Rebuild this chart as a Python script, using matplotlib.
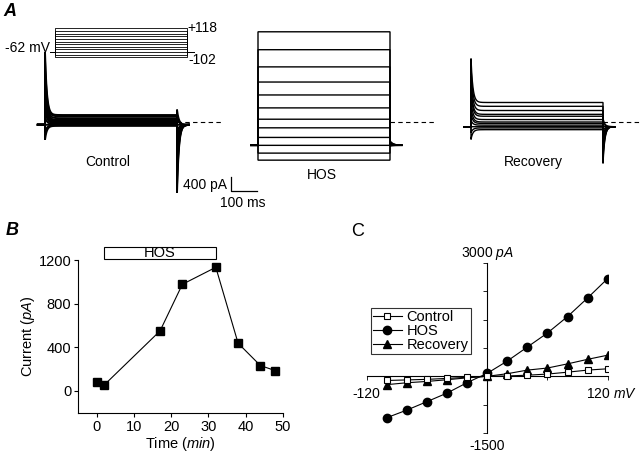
import numpy as np
import matplotlib
matplotlib.use('Agg')
import matplotlib.pyplot as plt
from matplotlib.patches import Rectangle

plt.rcParams['font.family'] = 'Liberation Sans'
plt.rcParams['mathtext.fontset'] = 'custom'
plt.rcParams['mathtext.rm'] = 'Liberation Sans'
plt.rcParams['mathtext.it'] = 'Liberation Sans:italic'
plt.rcParams['font.size'] = 10

# --- data ---
# A: voltage protocol (mV)
v_hold = -62
v_steps = [-102, -82, -62, -42, -22, -2, 18, 38, 58, 78, 98, 118]
hold_idx = 2
# capacitive transient size (pA per mV of step) at pulse on / off
cap_on = {'Control': 10.0, 'HOS': 0.0, 'Recovery': 7.0}
cap_off = {'Control': 10.9, 'HOS': 0.0, 'Recovery': 6.0}

# B: time course
time_min = [0, 2, 17, 23, 32, 38, 44, 48]
current_pa = [85, 55, 550, 977, 1133, 437, 232, 186]
hos_window = (2, 32)

# C: I-V relation
iv_mv = [-100, -80, -60, -40, -20, 0, 20, 40, 60, 80, 100, 120]
iv_control = [-110, -95, -80, -55, -25, 0, 10, 30, 60, 110, 165, 200]
iv_hos = [-1095, -893, -670, -443, -167, 80, 405, 776, 1147, 1582, 2075, 2589]
iv_recovery = [-220, -170, -135, -90, -40, 0, 70, 165, 220, 330, 450, 560]

W, H = 640, 454
fig = plt.figure(figsize=(6.4, 4.54), dpi=100)


def box(x0, y0, x1, y1):
    # pixel box -> figure fraction rect
    return [x0 / W, 1 - y1 / H, (x1 - x0) / W, (y1 - y0) / H]


def ftext(x, y, s, **kw):
    fig.text(x / W, 1 - y / H, s, **kw)


# ---------------- panel A ----------------
MS_PX = 500 / 132.0   # ms per pixel
PA_PX = 28.7          # pA per pixel
Y0 = 122              # zero current row

axA = fig.add_axes(box(0, 20, 640, 210))
axA.set_xlim(0, W * MS_PX)
axA.set_ylim((Y0 - 210) * PA_PX, (Y0 - 20) * PA_PX)
axA.axis('off')

tau_c, tau_t = 7.0, 12.0
t_pre = np.array([-27.0, 0.0])
t_step = np.arange(0, 500.5, 0.5)
t_post = np.arange(500, 545.5, 0.5)


def draw_traces(name, levels, start_px, lw):
    t0 = start_px * MS_PX
    hold = levels[hold_idx]
    for v, lev in zip(v_steps, levels):
        dv = v - v_hold
        i_pre = np.full(2, hold)
        i_step = lev + cap_on[name] * dv * np.exp(-t_step / tau_c)
        i_post = (hold - cap_off[name] * dv * np.exp(-(t_post - 500) / tau_c)
                  + 0.04 * (lev - hold) * np.exp(-(t_post - 500) / tau_t))
        t = np.concatenate([t_pre, t_step, t_post])
        i = np.concatenate([i_pre, i_step, i_post])
        axA.plot(t0 + t, i, color='k', lw=lw, solid_joinstyle='miter')
    # zero-current reference
    axA.plot([t0 + 500, t0 + 670], [0, 0], color='k', lw=0.8,
             dashes=(4, 3))


draw_traces('Control', iv_control, 45, 1.4)
draw_traces('HOS', iv_hos, 258, 1.0)
draw_traces('Recovery', iv_recovery, 471, 1.0)

# scale bar 400 pA / 100 ms
sb_x = 231 * MS_PX
sb_y = (Y0 - 191) * PA_PX
axA.plot([sb_x, sb_x, sb_x + 100], [sb_y + 400, sb_y, sb_y], color='k', lw=0.9)

ftext(108, 162, 'Control', ha='center', va='center')
ftext(322, 175, 'HOS', ha='center', va='center')
ftext(533, 162, 'Recovery', ha='center', va='center')
ftext(227, 185, '400 pA', ha='right', va='center')
ftext(243, 203, '100 ms', ha='center', va='center')

# voltage protocol
axP = fig.add_axes(box(40, 20, 200, 62))
MV_PX = 20 / 2.64
axP.set_xlim((40 - 55) * MS_PX, (200 - 55) * MS_PX)
axP.set_ylim(v_hold - (62 - 52.1) * MV_PX, v_hold + (52.1 - 20) * MV_PX)
axP.axis('off')
for v in v_steps:
    axP.plot([-19, 0, 0, 500, 500, 527], [v_hold, v_hold, v, v, v_hold, v_hold],
             color='k', lw=0.6)
ftext(50, 48, '-62 mV', ha='right', va='center')
ftext(187, 27.5, '+118', ha='left', va='center')
ftext(188, 60, '-102', ha='left', va='center')

# ---------------- panel B ----------------
axB = fig.add_axes(box(78.3, 260, 282.7, 412.7))
axB.plot(time_min, current_pa, color='k', lw=0.8, marker='s', ms=5.5,
         mfc='k', mec='k')
axB.set_xlim(-5, 50)
axB.set_ylim(-200, 1200)
axB.set_xticks([0, 10, 20, 30, 40, 50])
axB.set_yticks([0, 400, 800, 1200])
for s in ('top', 'right'):
    axB.spines[s].set_visible(False)
for s in ('left', 'bottom'):
    axB.spines[s].set_linewidth(0.8)
axB.tick_params(direction='out', length=3, width=0.8, pad=2, labelsize=10.5)
axB.set_xlabel('Time ($min$)', labelpad=1, fontsize=10.5)
axB.set_ylabel('Current ($pA$)', labelpad=1, fontsize=10.5)
axB.add_patch(Rectangle((hos_window[0], 1210), hos_window[1] - hos_window[0], 110,
                        facecolor='white', edgecolor='k', lw=0.8, clip_on=False))
axB.text(sum(hos_window) / 2, 1265, 'HOS', ha='center', va='center', fontsize=10.5)

# ---------------- panel C ----------------
axC = fig.add_axes(box(366.7, 263, 607.7, 433))
axC.set_xlim(-120, 120)
axC.set_ylim(-1500, 3000)
axC.plot(iv_mv, iv_control, color='k', lw=0.8, marker='s', ms=4.5,
         mfc='white', mec='k', mew=0.8, label='Control', zorder=4)
axC.plot(iv_mv, iv_hos, color='k', lw=0.8, marker='o', ms=6,
         mfc='k', mec='k', label='HOS', zorder=3)
axC.plot(iv_mv, iv_recovery, color='k', lw=0.8, marker='^', ms=5.5,
         mfc='k', mec='k', label='Recovery', zorder=3)
axC.spines['left'].set_position(('data', 0))
axC.spines['bottom'].set_position(('data', 0))
for s in ('top', 'right'):
    axC.spines[s].set_visible(False)
for s in ('left', 'bottom'):
    axC.spines[s].set_linewidth(0.8)
axC.set_xticks([-120, -60, 60, 120])
axC.set_yticks([-1500, -750, 750, 1500, 2250, 3000])
axC.tick_params(direction='out', length=3, width=0.6,
                labelbottom=False, labelleft=False)
axC.text(0, 3030, '3000 $pA$', ha='center', va='bottom')
axC.text(0, -1650, '-1500', ha='center', va='top')
axC.text(-120, -280, '-120', ha='center', va='top')
axC.text(124, -280, '120 $mV$', ha='center', va='top')
leg = axC.legend(loc='upper left', bbox_to_anchor=(370.7 / W, 1 - 308 / H),
                 bbox_transform=fig.transFigure, borderaxespad=0,
                 frameon=True, fancybox=False, handlelength=2.0,
                 handletextpad=0.3, borderpad=0.15, labelspacing=0.0,
                 fontsize=10.5)
leg.get_frame().set_edgecolor('k')
leg.get_frame().set_linewidth(0.8)

# panel letters
ftext(10, 12, 'A', ha='center', va='center', fontsize=13, fontweight='bold', style='italic')
ftext(12, 231, 'B', ha='center', va='center', fontsize=13, fontweight='bold', style='italic')
ftext(358, 232, 'C', ha='center', va='center', fontsize=13)

fig.savefig('out.png', dpi=100)
